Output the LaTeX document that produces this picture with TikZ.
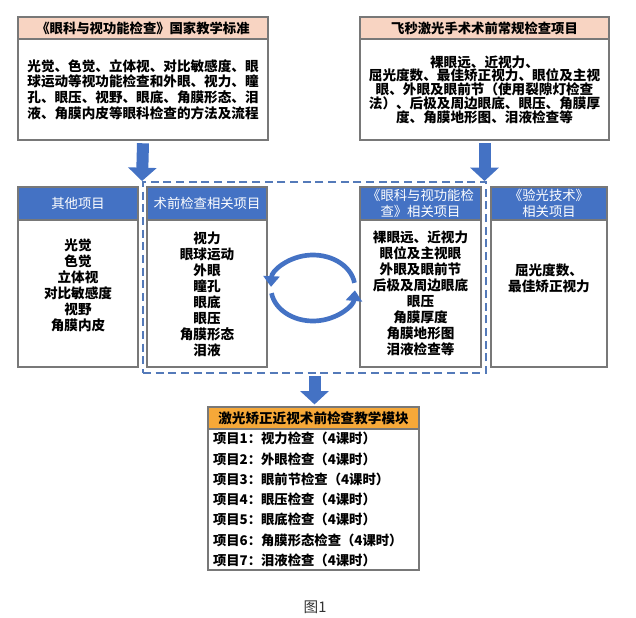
\documentclass[tikz,border=0pt]{standalone}
\usepackage{fontspec}
\setmainfont{Noto Sans CJK SC}
\usetikzlibrary{positioning}
\usetikzlibrary{arrows.meta}

\definecolor{hdrblue}{RGB}{68,114,196}
\definecolor{hdrpink}{RGB}{248,212,194}
\definecolor{hdrorange}{RGB}{246,168,56}
\definecolor{boxgray}{RGB}{120,120,120}
\definecolor{dashblue}{RGB}{84,122,185}

\tikzset{
  box/.style={draw=boxgray,line width=0.9pt,rectangle,inner sep=0pt},
  pinkhdr/.style={box,fill=hdrpink,minimum height=16.5pt,font=\fontsize{10pt}{12pt}\selectfont\bfseries},
  bluehdr/.style={box,fill=hdrblue,text=white,minimum width=90pt,minimum height=24.75pt,align=center,font=\fontsize{10pt}{12pt}\selectfont},
  midbody/.style={box,fill=white,minimum width=90pt,minimum height=110.25pt},
  items/.style={align=center,font=\fontsize{10.2pt}{12pt}\selectfont\bfseries},
  fatarrow/.style={draw=hdrblue,line width=9pt,-{Triangle[width=21pt,length=10pt]}},
  turnarrow/.style={draw=hdrblue,line width=3.5pt,-{Triangle[width=12pt,length=8pt]}}
}

\begin{document}
\begin{tikzpicture}[x=0.75pt,y=-0.75pt]
\useasboundingbox (0,0) rectangle (636,618);
%%%%%%%%%%%%%%%%%%%%%%%%%%%%%%%%% top row
\node[pinkhdr,minimum width=187.5pt] (stdhdr) at (143,28) {《眼科与视功能检查》国家教学标准};
\node[box,minimum width=187.5pt,minimum height=75.75pt,text width=174pt,inner xsep=6.75pt,align=center,font=\fontsize{10.2pt}{11.8pt}\selectfont\bfseries] (stdbody) at (143,89.5)
  {光觉、色觉、立体视、对比敏感度、眼\\球运动等视功能检查和外眼、视力、瞳\\孔、眼压、视野、眼底、角膜形态、泪\\液、角膜内皮等眼科检查的方法及流程};
\node[pinkhdr,minimum width=186.75pt] (femhdr) at (484.5,28) {飞秒激光手术术前常规检查项目};
\node[box,minimum width=186.75pt,minimum height=75.75pt,text width=174pt,inner xsep=6.375pt,align=center,font=\fontsize{10.2pt}{10.3pt}\selectfont\bfseries] (fembody) at (484.5,89.5)
  {裸眼远、近视力、\\屈光度数、最佳矫正视力、眼位及主视\\眼、外眼及眼前节（使用裂隙灯检查\\法）、后极及周边眼底、眼压、角膜厚\\度、角膜地形图、泪液检查等};
%%%%%%%%%%%%%%%%%%%%%%%%%%%%%%%%% middle row
\node[draw=dashblue,line width=1.5pt,dash pattern=on 6pt off 3.5pt,minimum width=257.25pt,minimum height=143.25pt,inner sep=0pt] (grp) at (314.5,277.5) {};
\node[bluehdr] (othhdr) at (78,203.5) {其他项目};
\node[midbody] (othbody) at (78,293.5) {};
\node[items] (othtxt) at (78,285.5) {光觉\\色觉\\立体视\\对比敏感度\\视野\\角膜内皮};
\node[bluehdr] (prehdr) at (207,203.5) {术前检查相关项目};
\node[midbody] (prebody) at (207,293.5) {};
\node[items] (pretxt) at (207,294.5) {视力\\眼球运动\\外眼\\瞳孔\\眼底\\眼压\\角膜形态\\泪液};
\node[bluehdr,minimum width=90.75pt] (ykhdr) at (420.5,203.5) {《眼科与视功能检\\查》相关项目};
\node[midbody,minimum width=90.75pt] (ykbody) at (420.5,293.5) {};
\node[items] (yktxt) at (420.5,293.5) {裸眼远、近视力\\眼位及主视眼\\外眼及眼前节\\后极及周边眼底\\眼压\\角膜厚度\\角膜地形图\\泪液检查等};
\node[bluehdr,minimum width=87pt] (yghdr) at (549,203.5) {《验光技术》\\相关项目};
\node[midbody,minimum width=87pt] (ygbody) at (549,293.5) {};
\node[items] (ygtxt) at (549,278.5) {屈光度数、\\最佳矫正视力};
% the two turning arrows
\coordinate (cyc) at (313,288);
\draw[turnarrow] (cyc) ++(9:31.5pt and 24.75pt) arc[start angle=9,end angle=178,x radius=31.5pt,y radius=24.75pt];
\draw[turnarrow] (cyc) ++(189:31.5pt and 24.75pt) arc[start angle=189,end angle=356,x radius=31.5pt,y radius=24.75pt];
%%%%%%%%%%%%%%%%%%%%%%%%%%%%%%%%% bottom module
\node[box,fill=hdrorange,minimum width=158.25pt,minimum height=16.5pt,font=\fontsize{10.2pt}{12pt}\selectfont\bfseries] (mkhdr) at (313.5,418) {激光矫正近视术前检查教学模块};
\node[box,minimum height=105.75pt,text width=150.75pt,inner xsep=3.75pt,align=left,font=\fontsize{10pt}{15.2pt}\selectfont\bfseries] (mkbody) at (313.5,499.5)
  {项目1：视力检查（4课时）\\项目2：外眼检查（4课时）\\项目3：眼前节检查（4课时）\\项目4：眼压检查（4课时）\\项目5：眼底检查（4课时）\\项目6：角膜形态检查（4课时）\\项目7：泪液检查（4课时）};
\node[font=\fontsize{11pt}{13pt}\selectfont,text=black!80] (cap) at (315,607) {图1};
% block arrows
\draw[fatarrow] ([yshift=-2pt]stdbody.south) -- (grp.north west);
\draw[fatarrow] ([yshift=-2pt]fembody.south) -- (fembody.south |- grp.north);
\draw[fatarrow,shorten >=1.5pt] ([yshift=-1.5pt]grp.south) -- (grp.south |- mkhdr.north);
\end{tikzpicture}
\end{document}
